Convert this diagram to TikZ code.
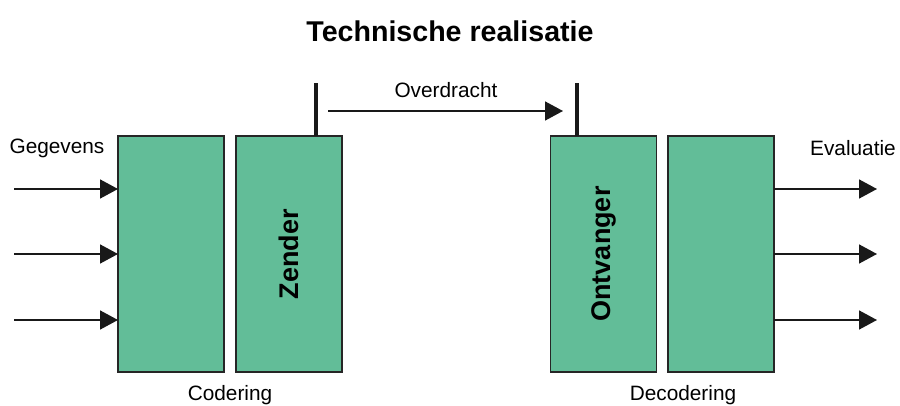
\documentclass[tikz,border=0pt]{standalone}
\usepackage{fontspec}
\setmainfont{Liberation Sans}
\usetikzlibrary{calc, positioning}
\usetikzlibrary{arrows.meta}

\definecolor{blokgroen}{RGB}{98,189,152}

\begin{document}
\begin{tikzpicture}[x=0.5pt,y=-0.5pt,
  blok/.style={draw=black!85,line width=0.9pt,fill=blokgroen,inner sep=0pt,outer sep=0pt,
    minimum width=53pt,minimum height=118pt},
  pijl/.style={line width=0.8pt,black!90,-{Triangle[length=9pt,width=9.5pt]}},
  label/.style={font=\fontsize{10.4}{12}\selectfont},
  bloknaam/.style={font=\fontsize{13.5}{15}\selectfont\bfseries,rotate=90}]
\useasboundingbox (0,0) rectangle (900,406);

\node[font=\fontsize{14.3}{16}\selectfont\bfseries] (titel) at (450,31) {Technische realisatie};

% blokken
\node[blok] (cod) at (171,254) {};
\node[blok] (zend) at (289,254) {};
\node[blok] (ontv) at (603.5,254) {};
\node[blok] (dec) at (721,254) {};

\node[bloknaam] (zendtekst) at (zend) {Zender};
\node[bloknaam] (ontvtekst) at (ontv) {Ontvanger};

% antennes
\coordinate (antA) at (316,83);
\coordinate (antB) at (577,83);
\draw[line width=1.6pt,black!90] (zend.north -| antA) -- (antA);
\draw[line width=1.6pt,black!90] (ontv.north -| antB) -- (antB);

% overdracht
\coordinate (ovA) at (328,111);
\coordinate (ovB) at (563,111);
\draw[pijl] (ovA) -- (ovB);
\node[label] (overdracht) at (446,90) {Overdracht};

% in- en uitgangen
\foreach \y [count=\i] in {189,254,320} {
  \coordinate (in\i) at (14,\y);
  \coordinate (uit\i) at (877,\y);
  \draw[pijl] (in\i) -- (in\i -| cod.west);
  \draw[pijl] (uit\i -| dec.east) -- (uit\i);
}

\node[label] (gegevens) at (57,148) {Gegevens};
\node[label] (evaluatie) at (853,148) {Evaluatie};
\node[label] (codering) at (230,395) {Codering};
\node[label] (decodering) at (683,395) {Decodering};
\end{tikzpicture}
\end{document}
